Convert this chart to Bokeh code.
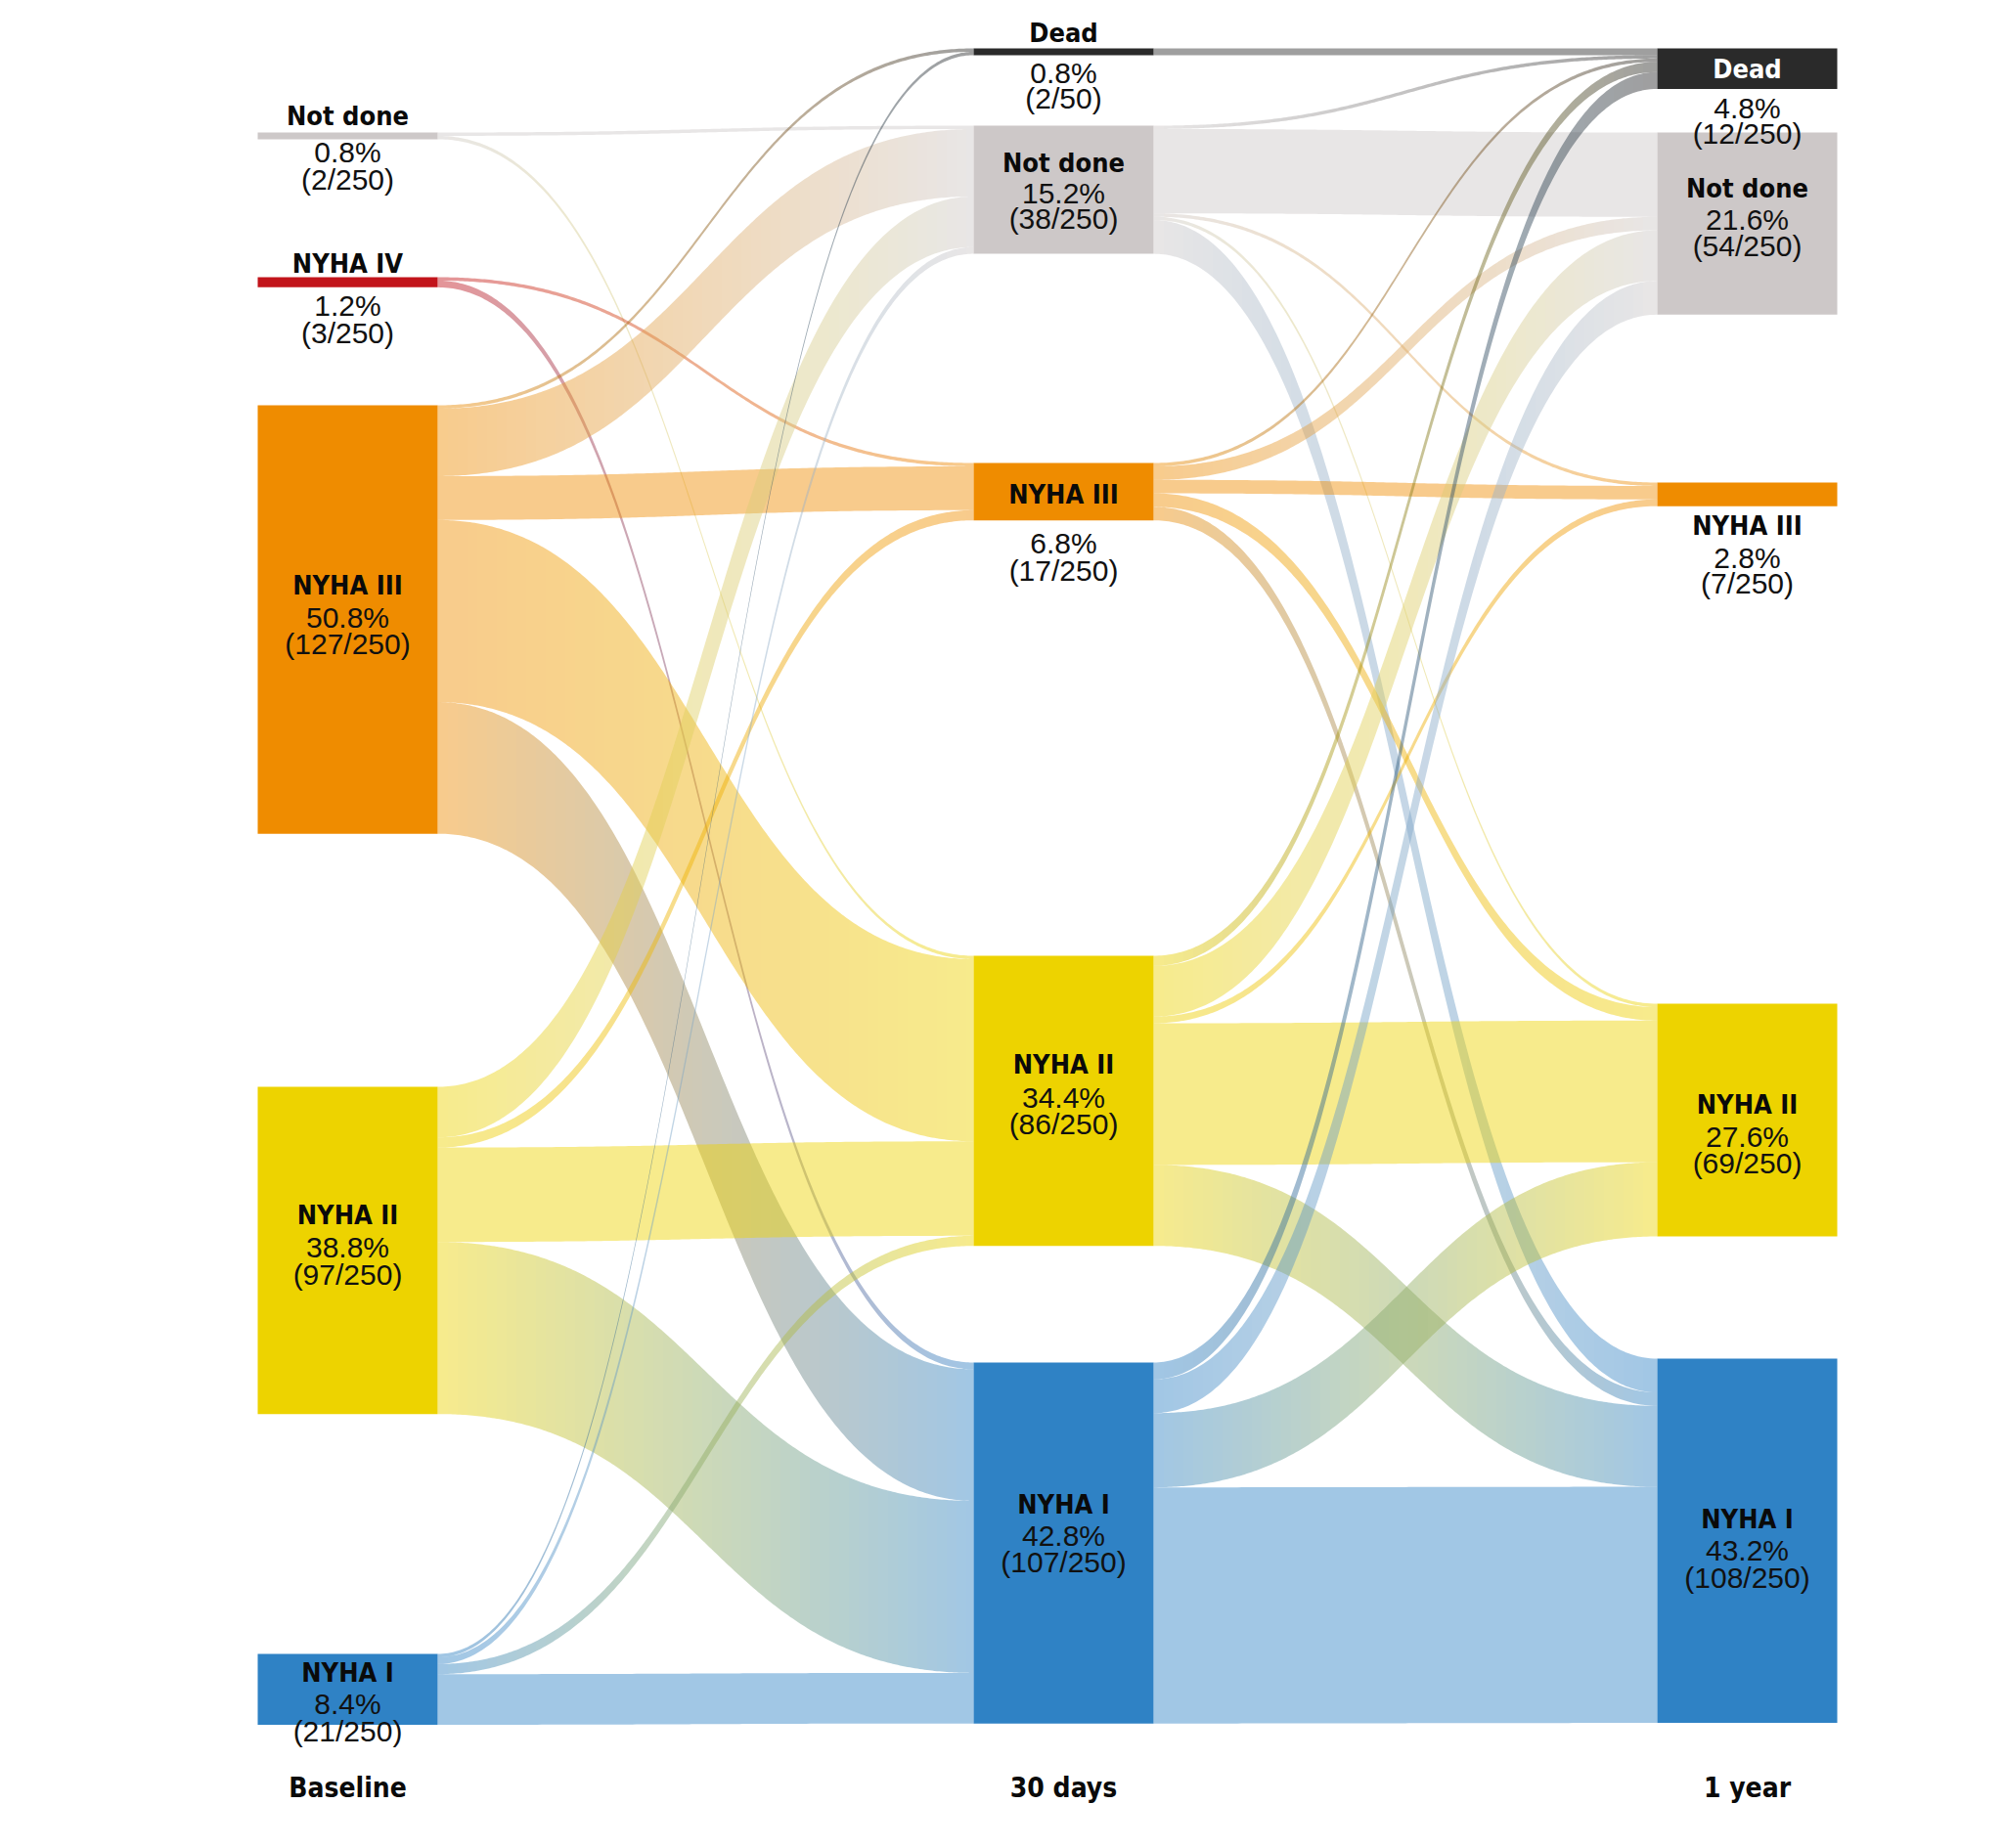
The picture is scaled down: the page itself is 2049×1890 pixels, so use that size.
import numpy as np
from bokeh.plotting import figure
from bokeh.models import Range1d, ColumnDataSource
from bokeh.core.properties import value
from bokeh.embed import file_html
from bokeh.resources import INLINE

# ---------------- data ----------------
stages = ["Baseline", "30 days", "1 year"]
baseline_classes = ["Not done", "NYHA IV", "NYHA III", "NYHA II", "NYHA I"]
baseline_counts = [2, 3, 127, 97, 21]
day30_classes = ["Dead", "Not done", "NYHA III", "NYHA II", "NYHA I"]
day30_counts = [2, 38, 17, 86, 107]
year1_classes = ["Dead", "Not done", "NYHA III", "NYHA II", "NYHA I"]
year1_counts = [12, 54, 7, 69, 108]
total_patients = 250
# denominators as printed in the original figure
baseline_denoms = [250, 250, 250, 250, 250]
day30_denoms = [50, 250, 250, 250, 250]
year1_denoms = [250, 250, 250, 250, 250]
# transitions: rows = class at earlier stage, columns = class at later stage
flows_baseline_to_30d = [
    [0, 1, 0, 1, 0],
    [0, 0, 1, 0, 2],
    [1, 20, 13, 54, 39],
    [0, 15, 3, 28, 51],
    [1, 2, 0, 3, 15],
]
flows_30d_to_1y = [
    [2, 0, 0, 0, 0],
    [1, 25, 1, 1, 10],
    [1, 4, 4, 4, 4],
    [3, 15, 2, 42, 24],
    [5, 10, 0, 22, 70],
]

stage_classes = [baseline_classes, day30_classes, year1_classes]
stage_counts = [baseline_counts, day30_counts, year1_counts]
stage_denoms = [baseline_denoms, day30_denoms, year1_denoms]
transitions = [flows_baseline_to_30d, flows_30d_to_1y]

# ---------------- style / layout ----------------
class_colors = {
    "Not done": "#CDC8C8",
    "NYHA IV": "#C2141B",
    "NYHA III": "#EF8C00",
    "NYHA II": "#EDD300",
    "NYHA I": "#2F82C5",
    "Dead": "#2A2A2A",
}
FLOW_ALPHA = 0.45
PX = 3.45                      # pixels per patient
col_left = [263, 995, 1694]
col_width = 184
node_top = [
    [135, 283, 414, 1111, 1691],
    [49, 128, 473, 977, 1393],
    [49, 135, 493, 1026, 1389],
]
# centre y of (bold name, percentage, fraction) for every node
label_rows = [
    [(118, 155, 183), (269, 312, 340), (598, 631, 658), (1242, 1275, 1303), (1710, 1742, 1770)],
    [(33, 74, 100), (166, 197, 223), (505, 555, 583), (1088, 1122, 1149), (1538, 1570, 1597)],
    [(70, 110, 136), (192, 224, 251), (537, 570, 596), (1129, 1162, 1189), (1553, 1585, 1613)],
]
stage_label_y = 1828
BOLD_FONT = "'DejaVu Sans Condensed', Roboto, sans-serif"
NUM_FONT = "Liberation Sans"
SLICE_SHIFT = 0.5

W, H = 2040, 1880
p = figure(width=W, height=H, output_backend="svg", toolbar_location=None,
           x_range=Range1d(0, W), y_range=Range1d(H, 0),
           x_axis_location=None, y_axis_location=None, min_border=0)
p.grid.visible = False
p.outline_line_color = None
p.background_fill_color = "white"
p.border_fill_color = "white"


def hex2rgb(h):
    return np.array([int(h[i:i + 2], 16) for i in (1, 3, 5)], dtype=float)


def mix(c0, c1, f):
    c = hex2rgb(c0) * (1 - f) + hex2rgb(c1) * f
    return "#%02x%02x%02x" % tuple(int(round(v)) for v in c)


def s_of_t(t):
    return 1.5 * t - 1.5 * t ** 2 + t ** 3


def curve(x0, x1, y0, y1, t):
    x = x0 + (x1 - x0) * s_of_t(t)
    y = y0 + (y1 - y0) * (3 * t ** 2 - 2 * t ** 3)
    return x, y


T_GRID = np.linspace(0, 1, 4001)
S_GRID = s_of_t(T_GRID)

# ---------------- flows ----------------
fx, fy, fc = [], [], []
for s, M in enumerate(transitions):
    src_cls, tgt_cls = stage_classes[s], stage_classes[s + 1]
    out_off = list(node_top[s])
    in_off = list(node_top[s + 1])
    x0 = col_left[s] + col_width
    x1 = col_left[s + 1]
    inner = np.arange(x0 + 10, x1 - 5, 10) + SLICE_SHIFT
    xb_all = np.concatenate([[x0], inner, [x1]]).astype(float)
    t_bounds = np.interp((xb_all - x0) / (x1 - x0), S_GRID, T_GRID)
    for i in range(len(M)):
        for j in range(len(M[i])):
            v = M[i][j]
            if v == 0:
                continue
            h = v * PX
            sy0, ty0 = out_off[i], in_off[j]
            out_off[i] += h
            in_off[j] += h
            c0, c1 = class_colors[src_cls[i]], class_colors[tgt_cls[j]]
            if c0 == c1:
                t = np.linspace(0, 1, 121)
                xt, yt = curve(x0, x1, sy0, ty0, t)
                xb, yb = curve(x0, x1, sy0 + h, ty0 + h, t)
                fx.append(list(xt) + list(xb[::-1]))
                fy.append(list(yt) + list(yb[::-1]))
                fc.append(c0)
                continue
            for k in range(len(t_bounds) - 1):
                ta, tb = t_bounds[k], t_bounds[k + 1]
                t = np.linspace(ta, tb, 5)
                xt, yt = curve(x0, x1, sy0, ty0, t)
                xb, yb = curve(x0, x1, sy0 + h, ty0 + h, t)
                xt[0], xt[-1] = xb_all[k], xb_all[k + 1]
                xb[0], xb[-1] = xb_all[k], xb_all[k + 1]
                fx.append(list(xt) + list(xb[::-1]))
                fy.append(list(yt) + list(yb[::-1]))
                fm = ((xb_all[k] + xb_all[k + 1]) / 2 - x0) / (x1 - x0)
                fc.append(mix(c0, c1, fm))

p.patches(xs="xs", ys="ys", fill_color="c", fill_alpha=FLOW_ALPHA, line_color=None,
          source=ColumnDataSource(dict(xs=fx, ys=fy, c=fc)))

# ---------------- nodes ----------------
nl, nr, nt, nb, ncol = [], [], [], [], []
for s in range(3):
    for i, cls in enumerate(stage_classes[s]):
        top = node_top[s][i]
        nl.append(col_left[s])
        nr.append(col_left[s] + col_width)
        nt.append(top)
        nb.append(top + stage_counts[s][i] * PX)
        ncol.append(class_colors[cls])
p.quad(left="l", right="r", top="t", bottom="b", fill_color="c", line_color=None,
       source=ColumnDataSource(dict(l=nl, r=nr, t=nt, b=nb, c=ncol)))

# ---------------- labels ----------------
bx, by, bt, bc = [], [], [], []
tx, ty, tt = [], [], []
for s in range(3):
    xc = col_left[s] + col_width / 2
    for i, cls in enumerate(stage_classes[s]):
        yb, y1, y2 = label_rows[s][i]
        n = stage_counts[s][i]
        bx.append(xc); by.append(yb); bt.append(cls)
        bc.append("white" if (cls == "Dead" and s == 2) else "#0a0a0a")
        tx += [xc, xc]
        ty += [y1, y2]
        tt += ["%.1f%%" % (100.0 * n / total_patients), "(%d/%d)" % (n, stage_denoms[s][i])]

p.text(x="x", y="y", text="t", text_color="c", source=ColumnDataSource(dict(x=bx, y=by, t=bt, c=bc)),
       text_font=value(BOLD_FONT), text_font_style="bold", text_font_size="27px",
       text_align="center", text_baseline="middle")
p.text(x="x", y="y", text="t", source=ColumnDataSource(dict(x=tx, y=ty, t=tt)),
       text_font=value(NUM_FONT), text_font_size="30px", text_color="#111111",
       text_align="center", text_baseline="middle")
p.text(x=[c + col_width / 2 for c in col_left], y=[stage_label_y] * 3, text=stages,
       text_font=value(BOLD_FONT), text_font_style="bold", text_font_size="28px",
       text_color="#0a0a0a", text_align="center", text_baseline="middle")

open("out.html", "w").write(file_html(p, INLINE))
